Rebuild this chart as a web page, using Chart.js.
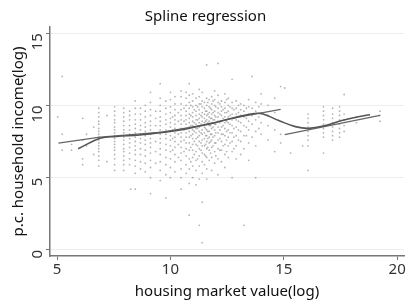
<!DOCTYPE html>
<html>
<head>
<meta charset="utf-8">
<style>
  html, body { margin: 0; padding: 0; background: #fff; }
  #wrap { width: 408px; height: 303px; }
</style>
</head>
<body>
<div id="wrap"><canvas id="splineChart"></canvas></div>

<script src="https://cdn.jsdelivr.net/npm/chart.js"></script>
<script>
  // scatter columns: x value and the y values observed at it
  const colX = [5.03, 5.23, 5.64, 6.13, 6.3, 6.62, 6.84, 7.2, 7.54, 7.94, 8.2, 8.25, 8.45, 8.68, 8.89,
    9.12, 9.35, 9.55, 9.8, 10.0, 10.2, 10.47, 10.69, 10.83, 10.98, 11.13, 11.27, 11.4, 11.5, 11.6,
    11.71, 11.82, 11.95, 12.1, 12.25, 12.4, 12.55, 12.72, 12.9, 13.1, 13.24, 13.45, 13.6, 13.76,
    14.0, 14.3, 14.6, 14.86, 15.04, 15.3, 15.83, 16.07, 16.75, 17.15, 17.46, 17.66, 18.2, 19.24];
  const colY = [
    [9.2], [12.0, 8.0, 6.9], [6.9, 7.3], [9.1, 6.3, 5.9, 7.6], [7.2, 8.0], [8.5, 6.6],
    [5.8, 6.2, 6.5, 6.8, 7.0, 7.2, 7.4, 7.6, 7.8, 8.0, 8.2, 8.4, 8.7, 8.9, 9.2, 9.5, 9.8],
    [9.3, 6.1],
    [5.5, 5.9, 6.3, 6.6, 6.9, 7.1, 7.3, 7.5, 7.7, 7.9, 8.1, 8.3, 8.5, 8.8, 9.0, 9.3, 9.6, 9.9],
    [5.5, 5.9, 6.2, 6.5, 6.8, 7.0, 7.3, 7.6, 7.8, 8.1, 8.3, 8.6, 8.9, 9.2, 9.5, 9.8],
    [5.9, 6.3, 6.7, 7.1, 7.4, 7.7, 8.0, 8.3, 8.6, 9.0, 9.3, 9.6],
    [4.2],
    [5.3, 5.8, 6.2, 6.6, 6.9, 7.2, 7.5, 7.8, 8.1, 8.4, 8.7, 9.0, 9.4, 9.8, 10.3, 4.2],
    [5.6, 6.1, 6.6, 7.0, 7.4, 7.7, 8.0, 8.3, 8.6, 9.0, 9.4, 9.8],
    [5.4, 6.0, 6.5, 6.9, 7.3, 7.6, 7.9, 8.2, 8.5, 8.8, 9.2, 9.6, 10.0],
    [3.9, 5.0, 5.7, 6.2, 6.7, 7.1, 7.4, 7.7, 8.0, 8.3, 8.6, 8.9, 9.3, 9.7, 10.2, 10.9],
    [6.0, 6.8, 7.5, 8.1, 8.6, 9.1, 9.6],
    [4.8, 5.5, 6.1, 6.6, 7.0, 7.4, 7.7, 8.0, 8.3, 8.6, 8.9, 9.2, 9.6, 10.0, 10.5, 11.5],
    [3.6, 5.2, 5.9, 6.4, 6.9, 7.3, 7.7, 8.0, 8.3, 8.7, 9.0, 9.4, 9.8, 10.3],
    [5.0, 5.7, 6.3, 6.8, 7.2, 7.6, 7.9, 8.2, 8.5, 8.8, 9.1, 9.5, 9.9, 10.4, 10.9],
    [5.4, 6.1, 6.6, 7.1, 7.5, 7.8, 8.1, 8.4, 8.7, 9.0, 9.3, 9.7, 10.1, 10.6],
    [4.2, 5.0, 5.6, 6.2, 6.7, 7.1, 7.5, 7.8, 8.1, 8.4, 8.7, 9.0, 9.3, 9.7, 10.1, 10.6, 11.0],
    [5.3, 5.9, 6.5, 7.0, 7.4, 7.8, 8.1, 8.4, 8.7, 9.0, 9.3, 9.6, 10.0, 10.5, 10.9],
    [2.4, 4.6, 5.6, 6.3, 6.9, 7.4, 7.8, 8.2, 8.5, 8.8, 9.1, 9.4, 9.8, 10.2, 10.7, 11.5],
    [5.0, 5.8, 6.4, 6.9, 7.3, 7.7, 8.0, 8.3, 8.6, 8.9, 9.2, 9.5, 9.9, 10.3, 10.8],
    [4.5, 5.5, 6.2, 6.8, 7.3, 7.7, 8.1, 8.4, 8.7, 9.0, 9.3, 9.6, 10.0, 10.5],
    [1.7, 4.9, 5.8, 6.5, 7.0, 7.5, 7.9, 8.2, 8.5, 8.8, 9.1, 9.4, 9.7, 10.1, 10.6, 11.1],
    [0.5, 3.3, 5.3, 6.1, 6.7, 7.2, 7.6, 8.0, 8.3, 8.6, 8.9, 9.2, 9.5, 9.9, 10.3, 10.9],
    [5.9, 6.6, 7.2, 7.7, 8.1, 8.5, 8.8, 9.1, 9.4, 9.8, 10.2],
    [4.9, 5.6, 6.4, 7.0, 7.5, 7.9, 8.3, 8.7, 9.0, 9.3, 9.6, 10.0, 10.5, 12.8],
    [6.2, 6.9, 7.4, 7.8, 8.2, 8.6, 8.9, 9.2, 9.5, 9.9, 10.4],
    [5.5, 6.4, 7.1, 7.6, 8.0, 8.4, 8.8, 9.1, 9.4, 9.7, 10.1, 10.6],
    [6.0, 6.8, 7.4, 7.9, 8.3, 8.7, 9.0, 9.3, 9.6, 10.0, 10.4, 11.0],
    [5.2, 6.3, 7.0, 7.6, 8.1, 8.5, 8.9, 9.2, 9.5, 9.8, 10.2, 10.7, 12.9],
    [6.1, 6.9, 7.5, 8.0, 8.5, 8.9, 9.3, 9.6, 9.9, 10.3],
    [5.7, 6.6, 7.3, 7.9, 8.4, 8.8, 9.2, 9.5, 9.8, 10.2, 10.8],
    [6.4, 7.2, 7.8, 8.3, 8.8, 9.2, 9.6, 10.0, 10.5],
    [5.0, 6.8, 7.5, 8.1, 8.6, 9.0, 9.4, 9.8, 10.2, 11.8],
    [6.3, 7.2, 7.9, 8.5, 9.0, 9.4, 9.8, 10.3],
    [6.6, 7.5, 8.2, 8.8, 9.3, 9.7, 10.1],
    [1.7, 7.0, 7.9, 8.6, 9.2, 9.6, 10.0],
    [6.2, 7.4, 8.3, 8.9, 9.4, 9.9, 10.4],
    [7.8, 8.7, 9.3, 9.8, 12.0],
    [5.0, 7.2, 8.2, 9.0, 9.6, 10.2],
    [8.0, 8.8, 9.5, 10.1, 10.8],
    [7.6, 8.6, 9.3, 10.0],
    [6.8, 8.3, 9.5, 10.5],
    [7.4, 8.0, 11.3],
    [11.2], [6.7], [7.2],
    [5.5, 7.2, 7.6, 7.9, 8.2, 8.5, 8.8, 9.1, 9.4],
    [6.7, 7.8, 8.1, 8.4, 8.7, 9.0, 9.3, 9.6, 9.9],
    [7.6, 7.9, 8.2, 8.5, 8.8, 9.1, 9.4, 9.8],
    [7.8, 8.1, 8.4, 8.7, 9.0, 9.3, 9.6, 9.9],
    [8.2, 8.6, 9.0, 9.4, 10.75],
    [8.8, 9.2],
    [8.9, 9.3, 9.6]
  ];

  // extra points filling the dense cloud between the columns
  const cloudX = [10.1, 10.35, 10.6, 10.9, 11.05, 11.2, 11.35, 11.55, 11.65, 11.77, 11.88, 12.0,
    12.18, 12.32, 12.48, 12.63, 12.8, 13.0, 13.35, 13.9];
  const cloudY = [
    [6.9, 7.7, 8.3, 9.2],
    [6.4, 7.3, 8.0, 8.9, 9.5],
    [6.8, 7.6, 8.3, 8.9, 9.8],
    [6.1, 7.1, 7.9, 8.6, 9.3, 10.0],
    [6.6, 7.5, 8.2, 8.8, 9.7],
    [6.3, 7.2, 7.8, 8.4, 9.0, 9.9],
    [6.9, 7.4, 8.1, 8.7, 9.3, 10.1],
    [6.5, 7.3, 7.9, 8.4, 8.9, 9.6],
    [7.1, 7.7, 8.2, 8.8, 9.4, 10.2],
    [6.7, 7.5, 8.0, 8.6, 9.1, 9.8],
    [7.2, 7.8, 8.5, 9.0, 9.5, 10.3],
    [6.5, 7.4, 8.1, 8.7, 9.2, 9.9],
    [6.9, 7.7, 8.3, 8.8, 9.4, 10.1],
    [7.2, 8.0, 8.6, 9.1, 9.7],
    [6.8, 7.6, 8.2, 8.9, 9.5, 10.4],
    [7.4, 8.1, 8.7, 9.3, 9.9],
    [7.0, 7.8, 8.4, 9.1, 9.7],
    [7.6, 8.3, 8.9, 9.5, 10.0],
    [7.9, 8.5, 9.1, 9.8],
    [8.4, 9.2, 9.9]
  ];

  // spline fit
  const splineX = [5.93, 6.9, 7.62, 8.64, 9.65, 10.69, 11.71, 12.72, 13.6, 14.04, 14.78, 15.51, 16.1, 16.83, 17.56, 18.58, 18.8];
  const splineY = [7.0, 7.72, 7.85, 7.95, 8.13, 8.37, 8.72, 9.11, 9.42, 9.42, 8.95, 8.53, 8.41, 8.6, 8.95, 9.3, 9.35];

  // piecewise linear fit (two pieces)
  const linAX = [5.06, 6.9, 9.65, 11.7, 12.7, 14.86];
  const linAY = [7.39, 7.8, 8.15, 8.7, 9.1, 9.72];
  const linBX = [15.04, 19.24];
  const linBY = [7.97, 9.3];

  const xTicks = [5, 10, 15, 20];
  const yTicks = [0, 5, 10, 15];

  const scatterPts = [];
  colX.forEach((x, i) => colY[i].forEach((y) => scatterPts.push({ x: x, y: y })));
  cloudX.forEach((x, i) => cloudY[i].forEach((y) => scatterPts.push({ x: x, y: y })));
  const toPts = (xs, ys) => xs.map((x, i) => ({ x: x, y: ys[i] }));

  const font = "'Noto Sans', 'Open Sans', sans-serif";

  new Chart(document.getElementById("splineChart"), {
    type: "scatter",
    data: {
      datasets: [
        {
          label: "spline",
          type: "line",
          data: toPts(splineX, splineY),
          borderColor: "#555",
          borderWidth: 1.6,
          tension: 0.4,
          pointRadius: 0,
          fill: false,
        },
        {
          label: "linear A",
          type: "line",
          data: toPts(linAX, linAY),
          borderColor: "#666",
          borderWidth: 1.3,
          tension: 0,
          pointRadius: 0,
          fill: false,
        },
        {
          label: "linear B",
          type: "line",
          data: toPts(linBX, linBY),
          borderColor: "#666",
          borderWidth: 1.3,
          tension: 0,
          pointRadius: 0,
          fill: false,
        },
        {
          label: "obs",
          data: scatterPts,
          backgroundColor: "rgba(120,120,120,0.55)",
          borderWidth: 0,
          pointRadius: 0.9,
        },
      ],
    },
    options: {
      responsive: true,
      maintainAspectRatio: false,
      animation: false,
      layout: { padding: { top: 4, right: 3, bottom: 2, left: 6 } },
      plugins: {
        legend: { display: false },
        tooltip: { enabled: false },
        title: {
          display: true,
          text: "Spline regression",
          color: "#111",
          font: { family: font, size: 15, weight: "normal" },
          padding: { top: 4, bottom: 1 },
        },
      },
      scales: {
        x: {
          type: "linear",
          min: 4.69,
          max: 20.3,
          afterBuildTicks: (s) => { s.ticks = xTicks.map((v) => ({ value: v })); },
          ticks: { color: "#333", font: { family: font, size: 15 }, padding: 1, maxRotation: 0 },
          grid: { drawOnChartArea: false, tickLength: 4, tickColor: "#777" },
          border: { color: "#777", width: 1.5 },
          title: {
            display: true,
            text: "housing market value(log)",
            color: "#111",
            font: { family: font, size: 15 },
            padding: { top: 3, bottom: 0 },
          },
        },
        y: {
          min: -0.42,
          max: 15.42,
          afterBuildTicks: (s) => { s.ticks = yTicks.map((v) => ({ value: v })); },
          ticks: { color: "#333", font: { family: font, size: 15 }, padding: 8.5, minRotation: 90, maxRotation: 90 },
          grid: { color: "#eeeeee", lineWidth: 1, tickLength: 4, tickColor: "#777" },
          border: { color: "#777", width: 1.5 },
          title: {
            display: true,
            text: "p.c. household income(log)",
            color: "#111",
            font: { family: font, size: 15 },
            padding: { top: 4, bottom: -17 },
          },
        },
      },
    },
  });
</script>
</body>
</html>
